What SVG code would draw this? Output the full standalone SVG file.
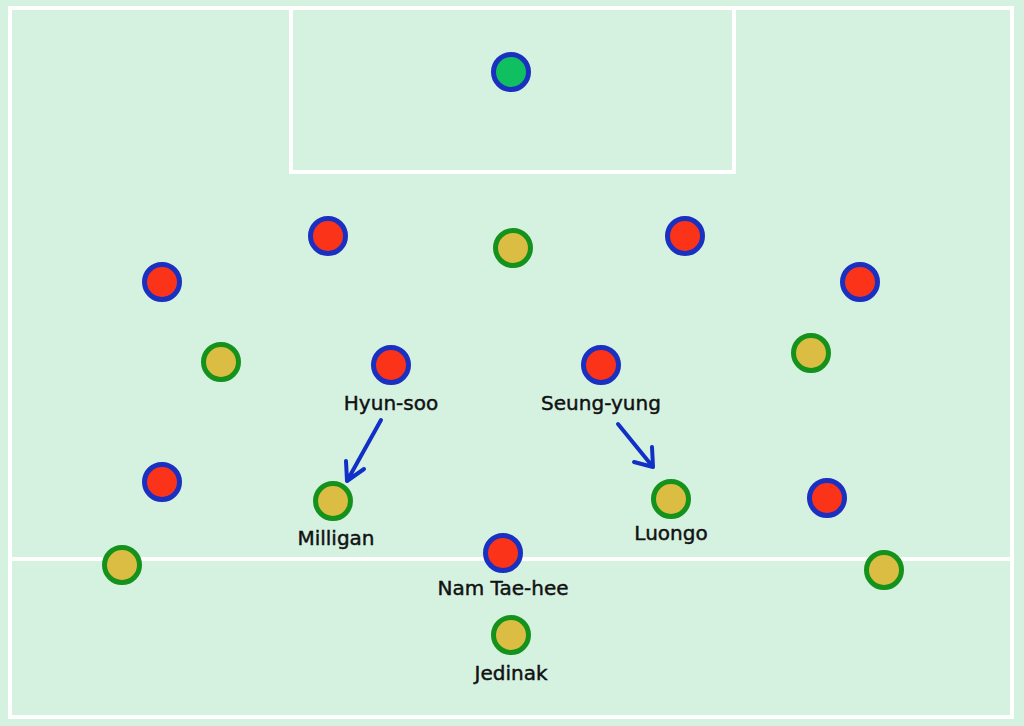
<svg xmlns="http://www.w3.org/2000/svg" width="1024" height="726" viewBox="0 0 1024 726">
<style>
.line{fill:none;stroke:#ffffff;stroke-width:4}
.red{fill:#fb3319;stroke:#1a30c0;stroke-width:5}
.yel{fill:#dbbd43;stroke:#14921c;stroke-width:5}
.gk{fill:#10c060;stroke:#1a30c0;stroke-width:5}
.lbl{font-family:"DejaVu Sans",Verdana,sans-serif;font-size:20px;fill:#111;stroke:#111;stroke-width:0.45;text-anchor:middle}
.arr{fill:none;stroke:#1030c8;stroke-width:4;stroke-linecap:round;stroke-linejoin:round}
</style>
<rect x="0" y="0" width="1024" height="726" fill="#d5f2e1"/>
<g id="pitch">
<rect class="line" x="10" y="8" width="1002" height="709"/>
<line class="line" x1="10" y1="559" x2="1012" y2="559"/>
<rect class="line" x="291" y="8" width="443" height="164"/>
</g>
<g id="connectors">
<path class="arr" d="M381 420 L347 481 M346 461 L347 481 L364 469"/>
<path class="arr" d="M618 424 L653 467 M652 447 L653 467 L634 462"/>
</g>
<g id="gk"><circle class="gk" cx="511" cy="72" r="17.5"/></g>
<g id="r1"><circle class="red" cx="328" cy="236" r="17.5"/></g>
<g id="y1"><circle class="yel" cx="513" cy="248" r="17.5"/></g>
<g id="r2"><circle class="red" cx="685" cy="236" r="17.5"/></g>
<g id="r3"><circle class="red" cx="162" cy="282" r="17.5"/></g>
<g id="r4"><circle class="red" cx="860" cy="282" r="17.5"/></g>
<g id="y2"><circle class="yel" cx="221" cy="362" r="17.5"/></g>
<g id="hyunsoo"><circle class="red" cx="391" cy="365" r="17.5"/><text class="lbl" x="391" y="410">Hyun-soo</text></g>
<g id="seungyung"><circle class="red" cx="601" cy="365" r="17.5"/><text class="lbl" x="601" y="410">Seung-yung</text></g>
<g id="y3"><circle class="yel" cx="811" cy="353" r="17.5"/></g>
<g id="r5"><circle class="red" cx="162" cy="482" r="17.5"/></g>
<g id="milligan"><circle class="yel" cx="333" cy="501" r="17.5"/><text class="lbl" x="336" y="545">Milligan</text></g>
<g id="luongo"><circle class="yel" cx="671" cy="499" r="17.5"/><text class="lbl" x="671" y="540">Luongo</text></g>
<g id="r6"><circle class="red" cx="827" cy="498" r="17.5"/></g>
<g id="y4"><circle class="yel" cx="122" cy="565" r="17.5"/></g>
<g id="namtaehee"><circle class="red" cx="503" cy="553" r="17.5"/><text class="lbl" x="503" y="595">Nam Tae-hee</text></g>
<g id="y5"><circle class="yel" cx="884" cy="570" r="17.5"/></g>
<g id="jedinak"><circle class="yel" cx="511" cy="635" r="17.5"/><text class="lbl" x="511" y="680">Jedinak</text></g>
</svg>
